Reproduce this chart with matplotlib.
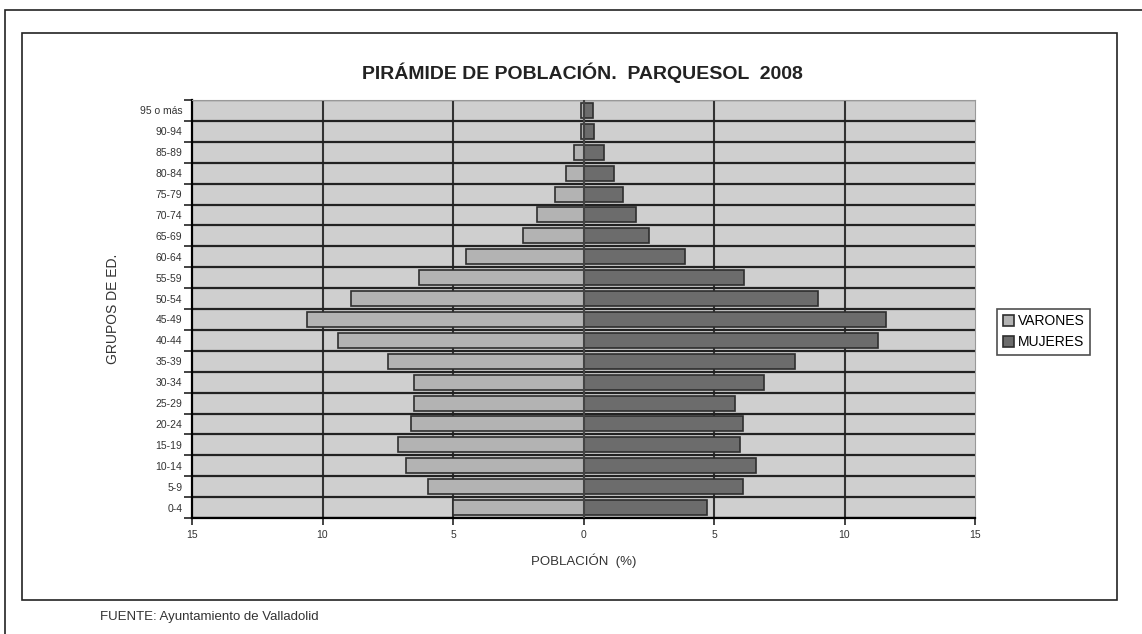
import matplotlib.pyplot as plt
import numpy as np
from matplotlib.patches import Rectangle

plt.rcParams["font.family"] = ["Liberation Sans", "DejaVu Sans"]

# Grupos de edad (de abajo a arriba)
grupos = ["0-4", "5-9", "10-14", "15-19", "20-24", "25-29", "30-34", "35-39",
          "40-44", "45-49", "50-54", "55-59", "60-64", "65-69", "70-74",
          "75-79", "80-84", "85-89", "90-94", "95 o más"]

# Porcentaje de población
varones = [5.0, 5.95, 6.8, 7.1, 6.6, 6.5, 6.5, 7.5, 9.4, 10.6, 8.9, 6.3,
           4.5, 2.3, 1.8, 1.1, 0.68, 0.38, 0.08, 0.08]
mujeres = [4.75, 6.1, 6.6, 6.0, 6.1, 5.8, 6.9, 8.1, 11.3, 11.6, 9.0, 6.15,
           3.9, 2.5, 2.0, 1.5, 1.17, 0.8, 0.4, 0.38]

xticks = [-15, -10, -5, 0, 5, 10, 15]
xtick_labels = ["15", "10", "5", "0", "5", "10", "15"]

fig = plt.figure(figsize=(11.42, 6.34), dpi=100)

# marcos exteriores
fig.add_artist(Rectangle((5 / 1142, -0.05), 1.2, 1 - 10 / 634 + 0.05,
                         transform=fig.transFigure, fill=False,
                         edgecolor="#222222", linewidth=1.2))
fig.add_artist(Rectangle((22 / 1142, 1 - 600 / 634), (1117 - 22) / 1142,
                         (600 - 33) / 634, transform=fig.transFigure,
                         fill=False, edgecolor="#222222", linewidth=1.2))

ax = fig.add_axes([192 / 1142, 1 - 518 / 634, 783 / 1142, 418 / 634])
ax.set_facecolor("#cfcfcf")

y = np.arange(len(grupos))
ax.barh(y, -np.array(varones), height=0.72, color="#b3b3b3",
        edgecolor="#2e2e2e", linewidth=1.2, label="VARONES", zorder=3)
ax.barh(y, mujeres, height=0.72, color="#6c6c6c",
        edgecolor="#2e2e2e", linewidth=1.2, label="MUJERES", zorder=3)

ax.set_xlim(-15, 15)
ax.set_ylim(-0.5, len(grupos) - 0.5)

ax.set_xticks(xticks)
ax.set_xticklabels(xtick_labels, fontsize=7.5, color="#333333")
ax.set_yticks(y)
ax.set_yticklabels(grupos, fontsize=7.5, color="#333333")
ax.tick_params(axis="y", length=0, pad=7)
ax.set_yticks(np.arange(len(grupos) + 1) - 0.5, minor=True)
ax.tick_params(axis="y", which="minor", length=6, width=1.2, color="#222222")
ax.tick_params(axis="x", length=5, width=1.2, color="#222222")

ax.grid(axis="y", which="minor", color="#222222", linewidth=1.6, zorder=1)
for xv in [-10, -5, 0, 5, 10]:
    ax.axvline(xv, color="#333333", linewidth=1.5, zorder=1)
ax.axvline(0, color="#444444", linewidth=1.5, zorder=4)

for side in ["top", "right"]:
    ax.spines[side].set_color("#999999")
ax.spines["left"].set_linewidth(1.6)
ax.spines["bottom"].set_linewidth(1.6)

ax.set_xlabel("POBLACIÓN  (%)", fontsize=9.5, color="#333333", labelpad=10)
ax.set_ylabel("GRUPOS DE ED.", fontsize=10, color="#333333", labelpad=14)

fig.text(582 / 1142, 1 - 73 / 634, "PIRÁMIDE DE POBLACIÓN.  PARQUESOL  2008",
         ha="center", va="center", fontsize=14, fontweight="bold",
         color="#222222")
fig.text(100 / 1142, 1 - 617 / 634, "FUENTE: Ayuntamiento de Valladolid",
         ha="left", va="center", fontsize=9.5, color="#333333")

leg = fig.legend(loc="upper left", bbox_to_anchor=(990 / 1142, 1 - 302 / 634),
                 fontsize=10, frameon=True, fancybox=False, handlelength=0.8,
                 handleheight=0.8, handletextpad=0.3, borderpad=0.4,
                 labelspacing=0.5)
leg.get_frame().set_edgecolor("#222222")
leg.get_frame().set_linewidth(1.2)

fig.savefig("out.png", dpi=100)
